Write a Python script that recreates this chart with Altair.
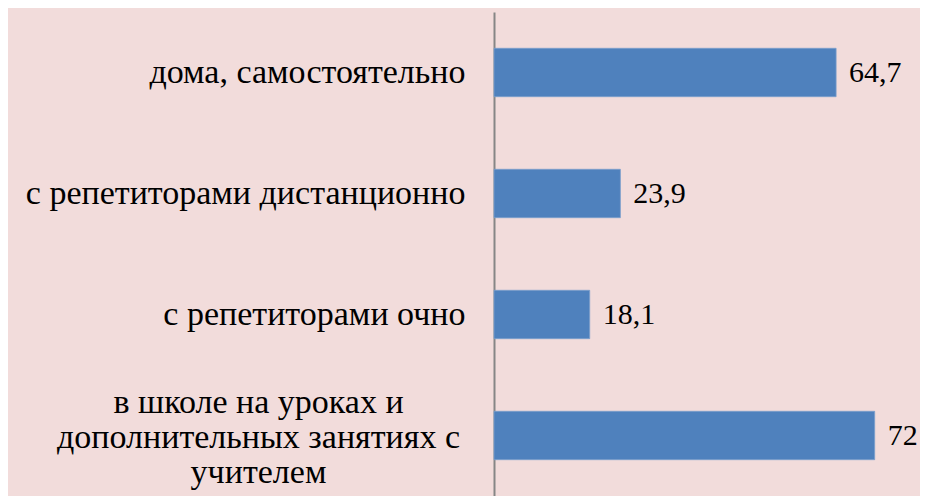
import altair as alt
import pandas as pd

categories = [
    "дома, самостоятельно",
    "с репетиторами дистанционно",
    "с репетиторами очно",
    "в школе на уроках и дополнительных занятиях с учителем",
]
values = [64.7, 23.9, 18.1, 72]
value_labels = ["64,7", "23,9", "18,1", "72"]
long_label_lines = ["в школе на уроках и", "дополнительных занятиях с", "учителем"]

df = pd.DataFrame({"cat": categories, "val": values, "lbl": value_labels})

long_cat = categories[3]
lines_js = "[" + ",".join("'" + s + "'" for s in long_label_lines) + "]"
label_expr = f"datum.value == '{long_cat}' ? {lines_js} : datum.label"
test_expr = f"datum.value == '{long_cat}'"

FONT = "'Times New Roman', 'Liberation Serif', serif"

y_enc = alt.Y(
    "cat:N",
    sort=categories,
    title=None,
    scale=alt.Scale(paddingInner=0.6, paddingOuter=0.3),
    axis=alt.Axis(
        ticks=False,
        grid=False,
        domainColor="#868686",
        domainWidth=2,
        labelFont=FONT,
        labelFontSize=34,
        labelColor="#000000",
        labelLimit=0,
        labelLineHeight=35,
        labelExpr=label_expr,
        labelAlign={"condition": {"test": test_expr, "value": "center"}, "value": "right"},
        labelPadding={"condition": {"test": test_expr, "value": 236}, "value": 29},
        labelOffset={"condition": {"test": test_expr, "value": -33}, "value": 0},
        labelBaseline="middle",
    ),
)

bars = alt.Chart(df).mark_bar(color="#4F81BD", stroke="#7BA0CD", strokeWidth=0.8).encode(
    x=alt.X("val:Q", scale=alt.Scale(domain=[0, 80]), axis=None),
    y=y_enc,
)

texts = alt.Chart(df).mark_text(
    align="left", baseline="middle", dx=13, font=FONT, fontSize=30, color="#000000"
).encode(
    x=alt.X("val:Q", scale=alt.Scale(domain=[0, 80]), axis=None),
    y=alt.Y("cat:N", sort=categories),
    text="lbl:N",
)

chart = (
    alt.layer(bars, texts)
    .properties(
        width=423,
        height=484,
        background="#F2DCDB",
        padding={"left": 486, "top": 4, "right": 3, "bottom": 0},
        autosize=alt.AutoSizeParams(type="none"),
    )
    .configure_view(stroke=None)
)

chart.save("out.html", embed_options={"renderer": "svg", "actions": False})
